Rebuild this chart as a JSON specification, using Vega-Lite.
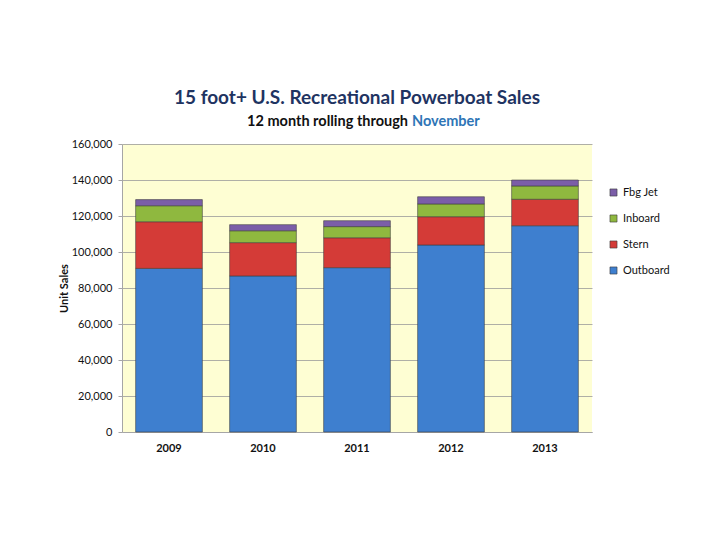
{
  "$schema": "https://vega.github.io/schema/vega-lite/v6.json",
  "width": 470,
  "height": 288,
  "autosize": {"type": "none"},
  "padding": {"left": 122, "top": 144, "right": 128, "bottom": 108},
  "background": "#ffffff",
  "config": {
    "font": "Lato",
    "view": {"fill": "#fefed3", "stroke": null},
    "axisY": {
      "tickCount": 8,
      "labelOverlap": false,
      "format": ",d",
      "labelFontSize": 11,
      "labelColor": "#111111",
      "labelPadding": 6,
      "tickSize": 4,
      "tickColor": "#a6a6a6",
      "domainColor": "#a6a6a6",
      "gridColor": "#9a9a9a",
      "gridWidth": 0.8,
      "titleFontSize": 11,
      "titleFontWeight": "bold",
      "titleColor": "#111111",
      "titlePadding": 2
    },
    "axisX": {
      "labelAngle": 0,
      "labelFontWeight": "bold",
      "labelFontSize": 11,
      "labelColor": "#111111",
      "labelPadding": 10,
      "ticks": false,
      "domainColor": "#a6a6a6",
      "grid": false
    }
  },
  "title": {
    "text": "15 foot+ U.S. Recreational Powerboat Sales",
    "fontSize": 19,
    "fontWeight": "bold",
    "color": "#1f3462",
    "font": "Lato",
    "anchor": "middle",
    "offset": 6
  },
  "data": {
    "values": [
      {"year": "2009", "type": "Outboard", "rank": 1, "units": 90900},
      {"year": "2009", "type": "Stern", "rank": 2, "units": 25900},
      {"year": "2009", "type": "Inboard", "rank": 3, "units": 8900},
      {"year": "2009", "type": "Fbg Jet", "rank": 4, "units": 3400},
      {"year": "2010", "type": "Outboard", "rank": 1, "units": 86700},
      {"year": "2010", "type": "Stern", "rank": 2, "units": 18500},
      {"year": "2010", "type": "Inboard", "rank": 3, "units": 6600},
      {"year": "2010", "type": "Fbg Jet", "rank": 4, "units": 3400},
      {"year": "2011", "type": "Outboard", "rank": 1, "units": 91300},
      {"year": "2011", "type": "Stern", "rank": 2, "units": 16600},
      {"year": "2011", "type": "Inboard", "rank": 3, "units": 6200},
      {"year": "2011", "type": "Fbg Jet", "rank": 4, "units": 3300},
      {"year": "2012", "type": "Outboard", "rank": 1, "units": 103900},
      {"year": "2012", "type": "Stern", "rank": 2, "units": 15700},
      {"year": "2012", "type": "Inboard", "rank": 3, "units": 7100},
      {"year": "2012", "type": "Fbg Jet", "rank": 4, "units": 4000},
      {"year": "2013", "type": "Outboard", "rank": 1, "units": 114600},
      {"year": "2013", "type": "Stern", "rank": 2, "units": 14700},
      {"year": "2013", "type": "Inboard", "rank": 3, "units": 7400},
      {"year": "2013", "type": "Fbg Jet", "rank": 4, "units": 3300}
    ]
  },
  "layer": [
    {
      "mark": {"type": "bar", "stroke": "#3a3a3a", "strokeWidth": 0.8, "strokeOpacity": 0.7},
      "encoding": {
        "x": {
          "field": "year",
          "type": "nominal",
          "scale": {"paddingInner": 0.29, "paddingOuter": 0.145},
          "axis": {"title": null}
        },
        "y": {
          "field": "units",
          "type": "quantitative",
          "aggregate": "sum",
          "stack": "zero",
          "scale": {"domain": [0, 160000], "nice": false},
          "axis": {"title": "Unit Sales"}
        },
        "color": {
          "field": "type",
          "type": "nominal",
          "scale": {
            "domain": ["Fbg Jet", "Inboard", "Stern", "Outboard"],
            "range": ["#7b5ea8", "#8fb83f", "#d43b37", "#3e7fcf"]
          },
          "legend": {
            "title": null,
            "orient": "none",
            "legendX": 486,
            "legendY": 43,
            "symbolType": "square",
            "symbolSize": 50,
            "symbolStrokeWidth": 0.6,
            "labelFontSize": 11,
            "labelColor": "#111111",
            "rowPadding": 14,
            "labelOffset": 4,
            "padding": 0
          }
        },
        "order": {"field": "rank", "type": "quantitative"}
      }
    },
    {
      "data": {"values": [{"part": "12 month rolling through"}]},
      "mark": {"type": "text", "align": "right", "baseline": "middle", "fontSize": 14.5, "fontWeight": "bold", "color": "#111111", "dx": 51},
      "encoding": {
        "x": {"datum": "2011"},
        "y": {"datum": 172000},
        "text": {"field": "part"}
      }
    },
    {
      "data": {"values": [{"part": "November"}]},
      "mark": {"type": "text", "align": "left", "baseline": "middle", "fontSize": 14.5, "fontWeight": "bold", "color": "#2e75b6", "dx": 55},
      "encoding": {
        "x": {"datum": "2011"},
        "y": {"datum": 172000},
        "text": {"field": "part"}
      }
    }
  ]
}
